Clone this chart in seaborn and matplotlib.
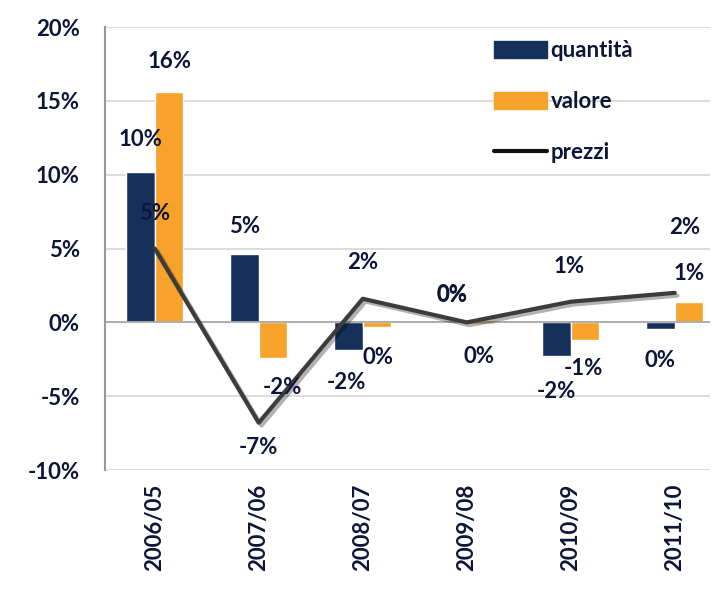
import numpy as np
import pandas as pd
import matplotlib
matplotlib.use("Agg")
import matplotlib.pyplot as plt
import matplotlib.patheffects as pe
from matplotlib.patches import Patch
from matplotlib.lines import Line2D
import seaborn as sns

# data (percent)
anni = ["2006/05", "2007/06", "2008/07", "2009/08", "2010/09", "2011/10"]
quantita = [10.2, 4.6, -1.9, 0.0, -2.3, -0.45]
valore = [15.6, -2.4, -0.3, -0.1, -1.2, 1.4]
prezzi = [5.0, -6.8, 1.6, 0.0, 1.4, 2.0]

# label offsets in pixels (dx, dy)
off_q = [(0, 32), (0, 28), (-2, -32), (0, 27), (0, -35), (0, -31)]
off_v = [(0, 31), (9, -30), (1, -31), (-2, -33), (-2, -28), (0, 28)]
off_p = [(0, 35), (0, -25), (0, 36), (-15, 28), (-2, 35), (10, 65)]

navy = "#16305c"
orange = "#f7a22a"
linec = "#3c3c3c"
txt = "#0e1638"

df = pd.DataFrame({
    "anno": anni * 2,
    "serie": ["quantità"] * len(anni) + ["valore"] * len(anni),
    "val": quantita + valore,
})

sns.set_style("white")
plt.rcParams["font.family"] = ["Lato", "DejaVu Sans"]

fig = plt.figure(figsize=(7.13, 5.89), dpi=100)
ax = fig.add_axes([0.147, 0.202, 0.849, 0.752])

sns.barplot(data=df, x="anno", y="val", hue="serie", order=anni,
            palette=[navy, orange], width=0.55, gap=0, ax=ax,
            legend=False, saturation=1)

xs = np.arange(len(anni))
sns.lineplot(x=xs, y=prezzi, color=linec, lw=3, ax=ax,
             path_effects=[pe.SimpleLineShadow(offset=(2, -2), alpha=0.3),
                           pe.Normal()])

ax.set_ylim(-10, 20)
ax.set_xlim(-0.48, 5.34)
ax.set_yticks([-10, -5, 0, 5, 10, 15, 20])
ax.set_yticklabels([f"{t}%" for t in [-10, -5, 0, 5, 10, 15, 20]])
ax.yaxis.grid(True, color="#dddddd", lw=1.5)
ax.set_axisbelow(True)
ax.axhline(0, color="#aaaaaa", lw=1.3, zorder=1)
ax.set_xlabel("")
ax.set_ylabel("")

for s in ["top", "right", "bottom"]:
    ax.spines[s].set_visible(False)
ax.spines["left"].set_color("#999999")
ax.spines["left"].set_linewidth(1.5)
ax.tick_params(axis="y", length=4, color="#999999", labelsize=16, labelcolor=txt, pad=14)
ax.tick_params(axis="x", length=0, labelsize=16, labelcolor=txt, pad=10)
ax.set_xticks(xs)
ax.set_xticklabels(anni, rotation=90, fontweight="bold")
for t in ax.get_yticklabels():
    t.set_fontweight("bold")


def lab(x, v, off):
    ax.annotate(f"{round(v)}%", (x, v), xytext=off, textcoords="offset pixels",
                ha="center", va="center", fontsize=16, fontweight="bold",
                color=txt, zorder=5)


w = 0.55 / 2
for i in range(len(anni)):
    lab(i - w / 2, quantita[i], off_q[i])
    lab(i + w / 2, valore[i], off_v[i])
    lab(i, prezzi[i], off_p[i])

handles = [Patch(color=navy, label="quantità"),
           Patch(color=orange, label="valore"),
           Line2D([0], [0], color="#111111", lw=3, label="prezzi")]
leg = ax.legend(handles=handles, loc="upper left", bbox_to_anchor=(0.61, 1.015),
                frameon=False, handlelength=2.4, handleheight=0.8,
                handletextpad=0.15, labelspacing=1.35, fontsize=16)
for t in leg.get_texts():
    t.set_fontweight("bold")
    t.set_color(txt)

fig.savefig("out.png", dpi=100)
